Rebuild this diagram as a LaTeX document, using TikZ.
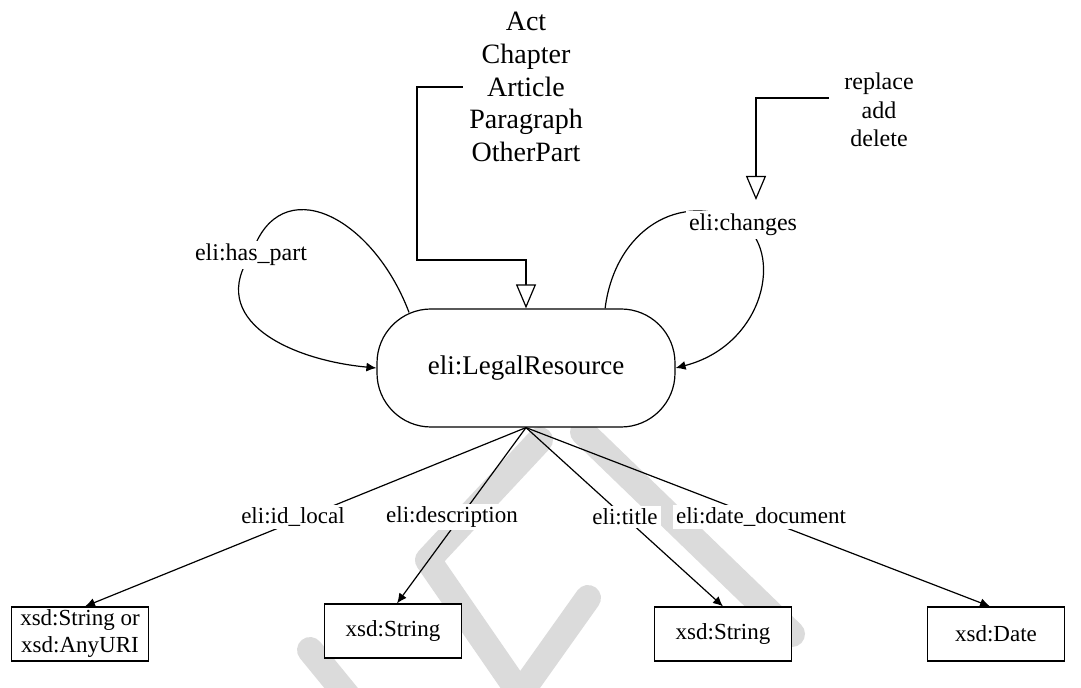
\documentclass[tikz,border=0pt]{standalone}
\usepackage{fontspec}
\setmainfont{Liberation Serif}
\usetikzlibrary{arrows.meta}
\begin{document}
\begin{tikzpicture}[x=0.5pt,y=-0.5pt,
  every node/.style={font=\fontsize{11.5}{13.5}\selectfont},
  res/.style={draw, fill=white, rounded corners=27pt, minimum width=149pt, minimum height=59pt, line width=0.6pt, font=\fontsize{13.5}{16}\selectfont},
  typebox/.style={draw, fill=white, minimum width=68.5pt, minimum height=27pt, align=center, inner sep=1pt, line width=0.6pt},
  lbl/.style={fill=white, inner sep=1.5pt},
  looplbl/.style={fill=white, inner sep=1.5pt, font=\fontsize{12}{14}\selectfont},
  link/.style={line width=0.6pt, -{Latex[length=5pt,width=4.5pt]}},
  hollow/.style={line width=0.6pt, -{Triangle[open, fill=white, length=12pt, width=10pt]}},
  wm/.style={line width=13pt, color=black!14, line cap=round, line join=round}
]
\useasboundingbox (0,0) rectangle (1081,688);
\clip (0,0) rectangle (1081,688);
% watermark
\draw[wm] (540,440) -- (428,560) -- (528,705);
\draw[wm] (583,432) -- (792,634);
\draw[wm] (588,598) -- (512,705);
\draw[wm] (310,650) -- (355,705);

% main node
\node[res] (res) at (526,368) {eli:LegalResource};

% top texts
\node[font=\fontsize{14}{16.4}\selectfont, align=center, inner sep=3pt] (parts) at (526,87) {Act\\Chapter\\Article\\Paragraph\\OtherPart};
\node[font=\fontsize{12}{14.25}\selectfont, align=center, inner xsep=7.5pt] (ops) at (879,110) {replace\\add\\delete};

\coordinate (bendA) at (417,260);
\coordinate (tipB) at (756,200);
\draw[hollow] (parts.west) -| (bendA) -| (res.north);
\draw[hollow] ([yshift=6pt]ops.west) -| (tipB);

% loops
\draw[link] ([yshift=-2pt]res.153) .. controls (372,215) and (280,170) .. (252,253) .. controls (205,320) and (290,360) .. (res.west);
\node[looplbl] (hp) at (251,255) {eli:has\_part};
\draw[link] (res.37) .. controls (615,230) and (680,190) .. (740,222) .. controls (785,250) and (765,345) .. (res.east);
\node[looplbl] (chg) at (743,225) {eli:changes};

% boxes
\node[typebox] (b1) at (80,634) {xsd:String or\\xsd:AnyURI};
\node[typebox] (b2) at (393,631) {xsd:String};
\node[typebox] (b3) at (723,634) {xsd:String};
\node[typebox] (b4) at (996,634) {xsd:Date};

\draw[link] (res.south) -- ([xshift=2.5pt]b1.north);
\draw[link] (res.south) -- ([xshift=2pt]b2.north);
\draw[link] (res.south) -- (b3.north);
\draw[link] (res.south) -- ([xshift=-3pt]b4.north);

\node[lbl] (l1) at (293,517) {eli:id\_local};
\node[lbl] (l2) at (452,517) {eli:description};
\node[lbl] (l3) at (625,517) {eli:title};
\node[lbl] (l4) at (761,517) {eli:date\_document};
\end{tikzpicture}
\end{document}
